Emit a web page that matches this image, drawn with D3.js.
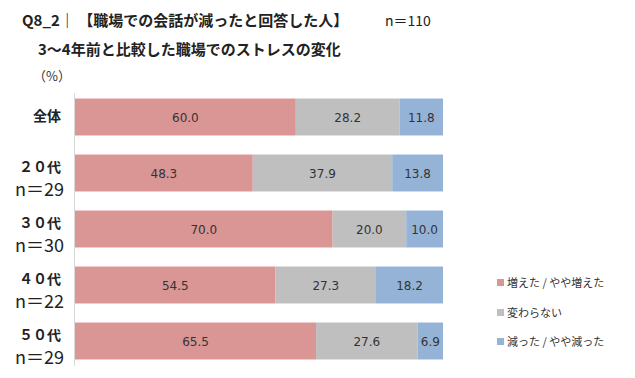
<!DOCTYPE html>
<html>
<head>
<meta charset="utf-8">
<script src="https://cdn.jsdelivr.net/npm/d3@7"></script>
<style>
  body { margin: 0; background: #fff; }
  text { font-family: "Noto Sans CJK JP", "Noto Sans", sans-serif; }
</style>
</head>
<body>
<svg id="chart" width="635" height="378"></svg>
<script>
// groups and sample sizes
const groups = ["全体", "２０代", "３０代", "４０代", "５０代"];
const sizes = [null, "n＝29", "n＝30", "n＝22", "n＝29"];
// series (percent)
const seriesNames = ["増えた / やや増えた", "変わらない", "減った / やや減った"];
const increased = [60.0, 48.3, 70.0, 54.5, 65.5];
const unchanged = [28.2, 37.9, 20.0, 27.3, 27.6];
const decreased = [11.8, 13.8, 10.0, 18.2, 6.9];
const colors = ["#d99694", "#bfbfbf", "#95b3d7"];

let svg = d3.select("#chart");

// titles
svg.append("text").attr("x", 22).attr("y", 26)
  .style("font-size", "15px").style("font-weight", "bold").attr("fill", "#222")
  .text("Q8_2｜ 【職場での会話が減ったと回答した人】");
svg.append("text").attr("x", 385).attr("y", 26)
  .style("font-size", "14px").attr("fill", "#222")
  .text("n＝110");
svg.append("text").attr("x", 38).attr("y", 55)
  .style("font-size", "15px").style("font-weight", "bold").attr("fill", "#222")
  .text("3～4年前と比較した職場でのストレスの変化");
svg.append("text").attr("x", 33).attr("y", 81)
  .style("font-size", "13px").attr("fill", "#333")
  .text("（%）");

// scales
let xScale = d3.scaleLinear().domain([0, 100]).range([75, 443]);
let yScale = d3.scaleBand().domain(groups).range([89, 369]).paddingInner(0.34).paddingOuter(0.17);

// stack the series
let rows = groups.map((g, i) => ({ group: g, s0: increased[i], s1: unchanged[i], s2: decreased[i] }));
let stack = d3.stack().keys(["s0", "s1", "s2"]);
let layers = stack(rows);

// axis line
svg.append("line")
  .attr("x1", 74.5).attr("x2", 74.5).attr("y1", 93).attr("y2", 366)
  .attr("stroke", "#d9d9d9").attr("stroke-width", 1);

let layer = svg.selectAll(".layer")
  .data(layers)
  .enter()
  .append("g")
  .attr("class", "layer")
  .attr("fill", (d, i) => colors[i]);

layer.selectAll("rect")
  .data(d => d)
  .enter()
  .append("rect")
  .attr("x", d => xScale(d[0]))
  .attr("y", d => yScale(d.data.group))
  .attr("width", d => xScale(d[1]) - xScale(d[0]))
  .attr("height", yScale.bandwidth());

// value labels
layer.selectAll(".val")
  .data(d => d)
  .enter()
  .append("text")
  .attr("class", "val")
  .attr("x", d => (xScale(d[0]) + xScale(d[1])) / 2)
  .attr("y", d => yScale(d.data.group) + yScale.bandwidth() / 2 + 5)
  .attr("text-anchor", "middle")
  .style("font-family", "DejaVu Sans, sans-serif")
  .style("font-size", "12px")
  .attr("fill", "#333")
  .text(d => d3.format(".1f")(d[1] - d[0]));

// category labels
groups.forEach((g, i) => {
  let yc = yScale(g) + yScale.bandwidth() / 2;
  if (sizes[i] === null) {
    svg.append("text").attr("x", 61).attr("y", yc + 4)
      .attr("text-anchor", "end")
      .style("font-size", "14px").style("font-weight", "bold").attr("fill", "#222")
      .text(g);
  } else {
    svg.append("text").attr("x", 61).attr("y", yc - 1)
      .attr("text-anchor", "end")
      .style("font-size", "14px").style("font-weight", "bold").attr("fill", "#222")
      .text(g);
    svg.append("text").attr("x", 64).attr("y", yc + 23)
      .attr("text-anchor", "end")
      .style("font-size", "18px").attr("fill", "#222")
      .text(sizes[i]);
  }
});

// legend
let legend = svg.selectAll(".legend")
  .data(seriesNames)
  .enter()
  .append("g")
  .attr("class", "legend")
  .attr("transform", (d, i) => `translate(497, ${[282, 312, 341][i]})`);
legend.append("rect")
  .attr("x", 0).attr("y", -3).attr("width", 7).attr("height", 7)
  .attr("fill", (d, i) => colors[i]);
legend.append("text")
  .attr("x", 10).attr("y", 5)
  .style("font-size", "11px").attr("fill", "#333")
  .text(d => d);
</script>
</body>
</html>
